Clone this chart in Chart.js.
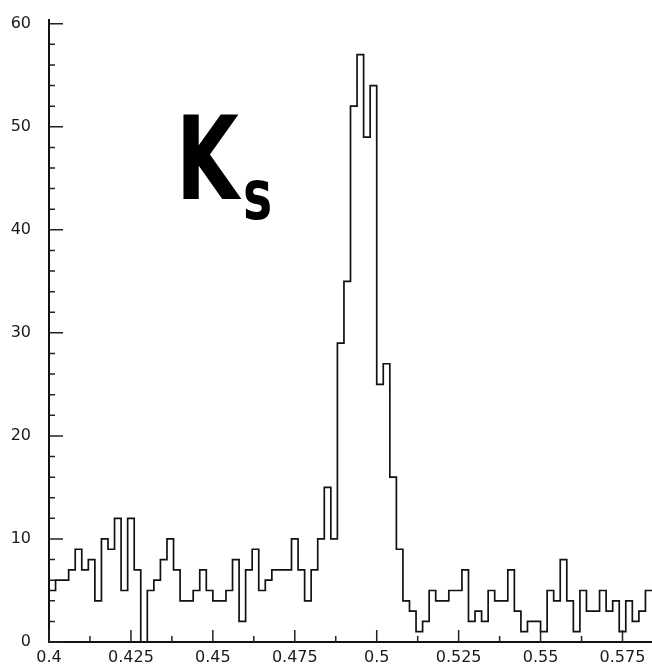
<!DOCTYPE html>
<html>
<head>
<meta charset="utf-8">
<script src="https://cdn.jsdelivr.net/npm/chart.js@4.4.1/dist/chart.umd.min.js"></script>
<style>
    body { margin: 0; background: #fff; }
    #wadah { position: relative; width: 652px; height: 665px; }
    #partikel {
        position: absolute;
        left: 176px;
        top: 101px;
        font: bold 116px "DejaVu Sans", sans-serif;
        line-height: 1;
        color: #000;
        white-space: nowrap;
        transform: scaleX(0.7);
        transform-origin: left top;
    }
    #partikel span { font-size: 70px; vertical-align: -20px; margin-left: 6px; }
</style>
</head>
<body>
<div id="wadah">
    <canvas id="grafikMassa" width="652" height="665"></canvas>
    <div id="partikel">K<span>s</span></div>
</div>
<script>
// ======================
// DATA HISTOGRAM
// ======================

const binAwal = 0.4;
const lebarBin = 0.002;

const jumlah = [
5,6,6,7,9,7,8,4,10,9,
12,5,12,7,0,5,6,8,10,7,
4,4,5,7,5,4,4,5,8,2,
7,9,5,6,7,7,7,10,7,4,
7,10,15,10,29,35,52,57,49,54,
25,27,16,9,4,3,1,2,5,4,
4,5,5,7,2,3,2,5,4,4,
7,3,1,2,2,1,5,4,8,4,
1,5,3,3,5,3,4,1,4,2,
3,5
];

const labelX = ["0.4","0.425","0.45","0.475","0.5","0.525","0.55","0.575"];
const labelY = ["0","10","20","30","40","50","60"];

// tick besar + tick kecil di tengahnya
const tickX = [];
labelX.forEach((l, i) => {
    tickX.push(parseFloat(l));
    if (i < labelX.length - 1) tickX.push(parseFloat(l) + 0.0125);
});

const tickY = [];
for (let v = 0; v <= 60; v += 2) tickY.push(v);

// titik tangga: tepi kiri tiap bin, lalu tepi kanan bin terakhir
const titik = jumlah.map((n, i) => ({ x: binAwal + i * lebarBin, y: n }));
titik.push({ x: binAwal + jumlah.length * lebarBin, y: jumlah[jumlah.length - 1] });

// ======================
// TICK KE DALAM
// ======================

const garisTick = {
    id: "garisTick",
    afterDraw(chart) {
        const { ctx, chartArea, scales: { x, y } } = chart;
        ctx.save();
        ctx.strokeStyle = "#222";
        ctx.lineWidth = 1.5;
        ctx.beginPath();
        x.ticks.forEach((t, i) => {
            const px = x.getPixelForValue(t.value);
            const len = i % 2 === 0 ? 12 : 6;
            ctx.moveTo(px, chartArea.bottom);
            ctx.lineTo(px, chartArea.bottom - len);
        });
        y.ticks.forEach((t, i) => {
            const py = y.getPixelForValue(t.value);
            const len = i % 5 === 0 ? 14 : 6;
            ctx.moveTo(chartArea.left, py);
            ctx.lineTo(chartArea.left + len, py);
        });
        ctx.stroke();
        ctx.restore();
    }
};

// ======================
// GRAFIK CHART.JS
// ======================

const fontLabel = { family: "'DejaVu Sans', sans-serif", size: 16 };

new Chart(document.getElementById("grafikMassa"), {

    type: "line",

    data: {
        datasets: [{
            data: titik,
            stepped: true,
            borderColor: "#111",
            borderWidth: 1.7,
            pointRadius: 0,
            fill: false
        }]
    },

    options: {
        responsive: false,
        animation: false,
        layout: { padding: { top: 7, right: 0, left: 0, bottom: 0 } },
        plugins: {
            legend: { display: false },
            tooltip: { enabled: false }
        },
        scales: {
            x: {
                type: "linear",
                min: 0.4,
                max: 0.584,
                grid: { display: false },
                border: { display: true, color: "#111", width: 2 },
                afterBuildTicks: s => { s.ticks = tickX.map(v => ({ value: v })); },
                afterFit: s => { s.height = 23; },
                ticks: {
                    autoSkip: false,
                    maxRotation: 0,
                    padding: -2,
                    color: "#1a1a1a",
                    font: fontLabel,
                    callback: (v, i) => i % 2 === 0 ? labelX[i / 2] : ""
                }
            },
            y: {
                min: 0,
                max: 60.4,
                grid: { display: false },
                border: { display: true, color: "#111", width: 2 },
                afterBuildTicks: s => { s.ticks = tickY.map(v => ({ value: v })); },
                afterFit: s => { s.width = 49; },
                ticks: {
                    autoSkip: false,
                    padding: 10,
                    color: "#1a1a1a",
                    font: fontLabel,
                    callback: (v, i) => i % 5 === 0 ? labelY[i / 5] : ""
                }
            }
        }
    },

    plugins: [garisTick]

});
</script>
</body>
</html>
